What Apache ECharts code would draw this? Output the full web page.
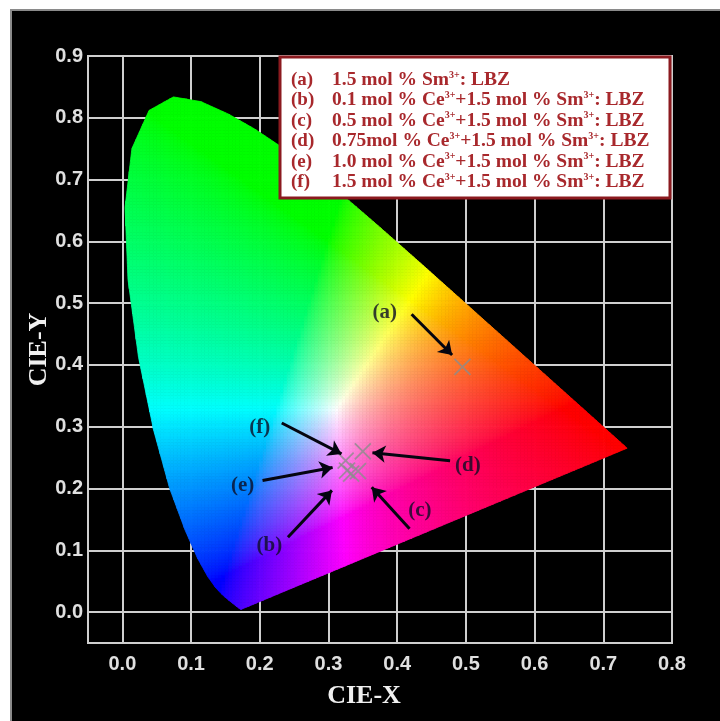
<!DOCTYPE html>
<html><head><meta charset="utf-8">
<script src="https://cdn.jsdelivr.net/npm/echarts@6/dist/echarts.min.js"></script>
<style>html,body{margin:0;padding:0;background:#fff}#c{width:720px;height:721px}</style>
</head><body><div id="c"></div>
<script>
// CIE 1931 spectral locus (380-700 nm)
const locusX = [0.1741,0.1740,0.1738,0.1736,0.1733,0.1730,0.1726,0.1721,0.1714,0.1703,0.1689,0.1669,0.1644,0.1611,0.1566,0.1510,0.1440,0.1355,0.1241,0.1096,0.0913,0.0687,0.0454,0.0235,0.0082,0.0039,0.0139,0.0389,0.0743,0.1142,0.1547,0.1929,0.2296,0.2658,0.3016,0.3373,0.3731,0.4087,0.4441,0.4788,0.5125,0.5448,0.5752,0.6029,0.6270,0.6482,0.6658,0.6801,0.6915,0.7006,0.7079,0.7140,0.7190,0.7230,0.7260,0.7283,0.7300,0.7311,0.7320,0.7334,0.7344,0.7347];
const locusY = [0.0050,0.0050,0.0049,0.0049,0.0048,0.0048,0.0048,0.0048,0.0051,0.0058,0.0069,0.0086,0.0109,0.0138,0.0177,0.0227,0.0297,0.0399,0.0578,0.0868,0.1327,0.2007,0.2950,0.4127,0.5384,0.6548,0.7502,0.8120,0.8338,0.8262,0.8059,0.7816,0.7543,0.7243,0.6923,0.6589,0.6245,0.5896,0.5547,0.5202,0.4866,0.4544,0.4242,0.3965,0.3725,0.3514,0.3340,0.3197,0.3083,0.2993,0.2920,0.2859,0.2809,0.2770,0.2740,0.2717,0.2700,0.2689,0.2680,0.2666,0.2656,0.2653];

// samples
const sampleKeys = ['(a)','(b)','(c)','(d)','(e)','(f)'];
const sampleX = [0.495, 0.333, 0.343, 0.350, 0.327, 0.325];
const sampleY = [0.397, 0.224, 0.228, 0.260, 0.229, 0.245];

// annotation labels and arrows
const labelX = [0.382, 0.214, 0.433, 0.503, 0.175, 0.200];
const labelY = [0.484, 0.108, 0.165, 0.237, 0.205, 0.298];
const arrowFromX = [0.421, 0.241, 0.418, 0.477, 0.204, 0.232];
const arrowFromY = [0.482, 0.121, 0.135, 0.245, 0.213, 0.306];
const arrowToX   = [0.480, 0.305, 0.363, 0.364, 0.306, 0.319];
const arrowToY   = [0.416, 0.197, 0.202, 0.258, 0.234, 0.256];

// ticks
const xTicks = [0.0,0.1,0.2,0.3,0.4,0.5,0.6,0.7,0.8];
const yTicks = [0.0,0.1,0.2,0.3,0.4,0.5,0.6,0.7,0.8,0.9];

// legend
const legendKeys = ['(a)','(b)','(c)','(d)','(e)','(f)'];
const legendTexts = [
  '1.5 mol % Sm^3+: LBZ',
  '0.1 mol % Ce^3++1.5 mol % Sm^3+: LBZ',
  '0.5 mol % Ce^3++1.5 mol % Sm^3+: LBZ',
  '0.75mol % Ce^3++1.5 mol % Sm^3+: LBZ',
  '1.0 mol % Ce^3++1.5 mol % Sm^3+: LBZ',
  '1.5 mol % Ce^3++1.5 mol % Sm^3+: LBZ'
];

// ---------- colour field helpers ----------
function cross(o, a, b) { return (a[0]-o[0])*(b[1]-o[1]) - (a[1]-o[1])*(b[0]-o[0]); }
function convexHull(pts) {
  const p = pts.slice().sort((a, b) => a[0] - b[0] || a[1] - b[1]);
  const lower = [], upper = [];
  for (const q of p) { while (lower.length >= 2 && cross(lower[lower.length-2], lower[lower.length-1], q) <= 0) lower.pop(); lower.push(q); }
  for (let i = p.length - 1; i >= 0; i--) { const q = p[i]; while (upper.length >= 2 && cross(upper[upper.length-2], upper[upper.length-1], q) <= 0) upper.pop(); upper.push(q); }
  upper.pop(); lower.pop();
  return lower.concat(upper); // CCW
}
const hull = convexHull(locusX.map((x, i) => [x, locusY[i]]));
function clipPoly(subject) {
  let out = subject;
  for (let i = 0; i < hull.length && out.length; i++) {
    const a = hull[i], b = hull[(i + 1) % hull.length];
    const inp = out; out = [];
    for (let j = 0; j < inp.length; j++) {
      const P = inp[j], Q = inp[(j + 1) % inp.length];
      const pin = cross(a, b, P) >= 0, qin = cross(a, b, Q) >= 0;
      if (pin) out.push(P);
      if (pin !== qin) {
        const dx = Q[0]-P[0], dy = Q[1]-P[1];
        const ex = b[0]-a[0], ey = b[1]-a[1];
        const t = (ex*(P[1]-a[1]) - ey*(P[0]-a[0])) / (ey*dx - ex*dy);
        out.push([P[0] + t*dx, P[1] + t*dy]);
      }
    }
  }
  return out;
}
const GAMMA = 1 / 1.5;
function xyColor(x, y) {
  const X = x / y, Y = 1, Z = (1 - x - y) / y;
  let r = 3.2406*X - 1.5372*Y - 0.4986*Z;
  let g = -0.9689*X + 1.8758*Y + 0.0415*Z;
  let b = 0.0557*X - 0.2040*Y + 1.0570*Z;
  r = Math.max(r,0); g = Math.max(g,0); b = Math.max(b,0);
  const m = Math.max(r,g,b) || 1;
  const f = c => Math.round(Math.pow(c / m, GAMMA) * 255);
  return 'rgb(' + f(r) + ',' + f(g) + ',' + f(b) + ')';
}
const STEP = 0.005;
const cells = [], cellPolys = [], cellColors = [];
for (let x0 = 0; x0 < 0.74; x0 += STEP) {
  for (let y0 = 0; y0 < 0.84; y0 += STEP) {
    const poly = clipPoly([[x0, y0], [x0 + STEP, y0], [x0 + STEP, y0 + STEP], [x0, y0 + STEP]]);
    if (poly.length >= 3) {
      let cx = 0, cy = 0; poly.forEach(p => { cx += p[0]; cy += p[1]; });
      cx /= poly.length; cy /= poly.length;
      cells.push([cx, cy]); cellPolys.push(poly); cellColors.push(xyColor(cx, Math.max(cy, 0.002)));
    }
  }
}

function richLine(t) { return t.replace(/\^3\+/g, '{sup|3+}'); }

const chart = echarts.init(document.getElementById('c'), null, {renderer: 'canvas'});
const tickFont = {color: '#e0e0e0', fontFamily: 'Liberation Sans, Arial, sans-serif', fontWeight: 'bold', fontSize: 20};
const legColor = '#a8282c';
const legendChildren = [{
  type: 'rect', z: 100, shape: {x: 280, y: 57, width: 390, height: 141},
  style: {fill: '#ffffff', stroke: '#8b1a1f', lineWidth: 3}
}];
legendKeys.forEach((k, i) => {
  const yy = 80 + i * 20.4;
  legendChildren.push({type: 'text', z: 101, x: 291, y: yy, style: {text: k, fill: legColor, font: 'bold 19px "Liberation Serif", serif', verticalAlign: 'middle'}});
  legendChildren.push({type: 'text', z: 101, x: 332, y: yy, style: {
    text: richLine(legendTexts[i]), fill: legColor, verticalAlign: 'middle',
    font: 'bold 19.5px "Liberation Serif", serif',
    rich: {sup: {fontSize: 10, fontWeight: 'bold', fontFamily: 'Liberation Serif', fill: legColor, verticalAlign: 'top', padding: [0,0,9,0]}}
  }});
});

chart.setOption({
  animation: false,
  backgroundColor: '#ffffff',
  graphic: [
    {type: 'rect', z: -100, shape: {x: 11, y: 10, width: 712, height: 714}, style: {fill: '#000', stroke: '#8a8a8a', lineWidth: 2}},
    {type: 'group', z: 100, children: legendChildren}
  ],
  grid: {left: 88, right: 48, top: 56, bottom: 78, show: true, borderColor: '#cfcfcf', borderWidth: 2, backgroundColor: 'transparent'},
  xAxis: {
    type: 'value', min: -0.05, max: 0.8,
    name: 'CIE-X', nameLocation: 'middle', nameGap: 40, nameMoveOverlap: false,
    nameTextStyle: {color: '#f0f0f0', fontFamily: 'Liberation Serif', fontWeight: 'bold', fontSize: 26, padding: [0, 32, 0, 0]},
    axisLine: {show: false}, axisTick: {show: false, customValues: xTicks},
    axisLabel: Object.assign({customValues: xTicks, margin: 11, formatter: v => v.toFixed(1)}, tickFont),
    splitLine: {show: true, lineStyle: {color: '#cfcfcf', width: 2}}
  },
  yAxis: {
    type: 'value', min: -0.05, max: 0.9,
    name: 'CIE-Y', nameLocation: 'middle', nameGap: 36, nameRotate: 90, nameMoveOverlap: false,
    nameTextStyle: {color: '#f0f0f0', fontFamily: 'Liberation Serif', fontWeight: 'bold', fontSize: 26, padding: [0, 0, 0, 0]},
    axisLine: {show: false}, axisTick: {show: false, customValues: yTicks},
    axisLabel: Object.assign({customValues: yTicks, margin: 5, formatter: v => v.toFixed(1)}, tickFont),
    splitLine: {show: true, lineStyle: {color: '#cfcfcf', width: 2}}
  },
  series: [
    {
      type: 'custom', silent: true, progressive: 0, z: 2,
      data: cells, encode: {x: 0, y: 1},
      renderItem: function (params, api) {
        const pts = cellPolys[params.dataIndex].map(p => api.coord(p));
        const col = cellColors[params.dataIndex];
        return {type: 'polygon', shape: {points: pts}, style: {fill: col, stroke: col, lineWidth: 0.8}};
      }
    },
    {
      type: 'scatter', z: 5, silent: true,
      symbol: 'path://M0,0L10,10M10,0L0,10', symbolSize: 16,
      itemStyle: {color: 'transparent', borderColor: '#8c8c8c', borderWidth: 1.8},
      data: sampleX.map((x, i) => ({name: sampleKeys[i], value: [x, sampleY[i]]}))
    },
    {
      type: 'lines', coordinateSystem: 'cartesian2d', z: 6, silent: true,
      symbol: ['none', 'arrow'], symbolSize: 13,
      lineStyle: {color: '#050510', width: 3, opacity: 1},
      data: arrowFromX.map((x, i) => ({coords: [[x, arrowFromY[i]], [arrowToX[i], arrowToY[i]]]}))
    },
    {
      type: 'scatter', z: 7, silent: true, symbolSize: 1, itemStyle: {color: 'transparent'},
      label: {show: true, position: 'inside', formatter: p => p.name, color: '#0d0d26',
        fontFamily: 'Liberation Serif', fontWeight: 'bold', fontSize: 21},
      data: labelX.map((x, i) => ({name: sampleKeys[i], value: [x, labelY[i]]}))
    }
  ]
});
</script></body></html>
